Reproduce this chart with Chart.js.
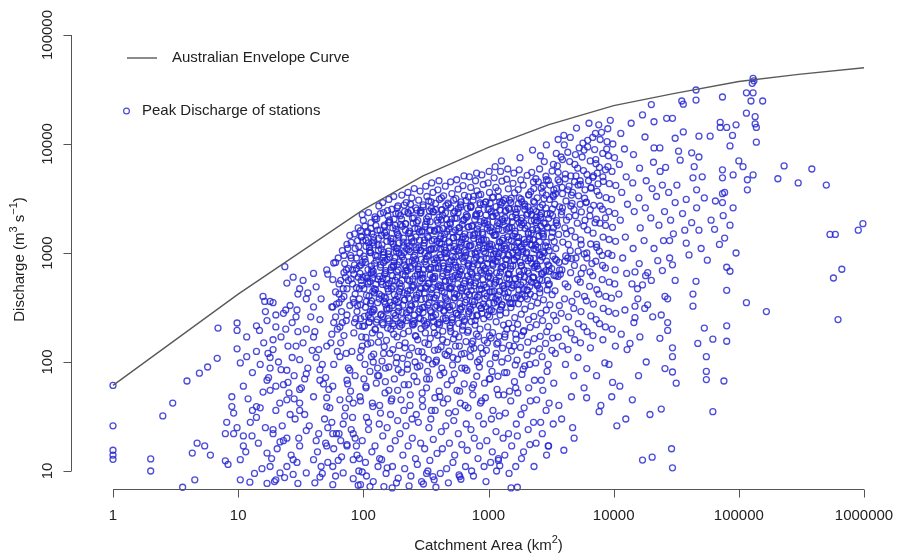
<!DOCTYPE html>
<html>
<head>
<meta charset="utf-8">
<title>Peak discharge vs catchment area</title>
<script src="https://cdn.jsdelivr.net/npm/chart.js@4.4.1/dist/chart.umd.min.js"></script>
<style>
  html, body { margin: 0; padding: 0; background: #fff; }
  #wrap { width: 897px; height: 559px; }
</style>
</head>
<body>
<div id="wrap"><canvas id="chart" width="897" height="559"></canvas></div>
<script>
// axis ticks
const xTickValues = [1, 10, 100, 1000, 10000, 100000, 1000000];
const yTickValues = [10, 100, 1000, 10000, 100000];

// Australian envelope curve (km2, m3/s)
const envelopeArea = [1, 10, 100, 300, 1000, 3000, 10000, 30000, 100000, 300000, 1000000];
const envelopeQ = [61, 420, 2500, 5100, 9300, 15000, 22500, 29000, 37500, 43500, 50000];

// stations [area km2, peak discharge m3/s]
const smallCatchments = [
  [1,61],[1,26],[1,15.5],[1,14],[1,12.8],[2,12.9],[2,10],[2.5,32],[3,42],[3.9,67],[4.9,79],[5.7,90],[6.8,108],[6.9,205],
  [3.6,7.1],[4.3,14.6],[4.7,18],[5.4,17],[6,14],[7.9,12.4],[4.5,8.3],[8.3,11.5],
  [9.8,228],[9.8,195],[9.8,132],[10.4,98],[11.7,170],[11.7,112],[14.8,195],[8.9,48],[8.9,39],[9.2,34],[8.1,28],[7.9,22],
  [9.2,22],[9.8,25],[10.4,12.7],[11,17],[12.9,21],[14,31],[14,39],[15.8,53],[17,68],[18,88],[17.3,120],[19,160],[20,210],
  [23,280],[19,350],[15.8,400],[16.3,360],[18,360],[24.5,530],[27.5,600],[23.6,750],[31,470],[29.5,300],[35,380],[42,490],
  [40,650],[51,700],[57,570],[45,245],[57,320],[74,470],[83,380],[65,210],[33,150],[40,170],[51,140],[65,112],[31,105],
  [24.5,84],[35,78],[45,68],[57,60],[74,68],[20,60],[24.5,45],[31,42],[40,48],[51,39],[65,45],[83,42],[19,22],[21.6,18.5],
  [24.5,20],[31,17],[35,23.5],[42,19],[51,17],[57,22],[74,17],[83,22],[17,14.6],[18,11],[21.6,9.6],[27.5,12.7],[35,9.6],
  [40,12.7],[45,8.8],[57,11],[69,9.6],[83,12.7],[10.4,8.3],[12.4,7.9],[17,7.7],[20,8.3],[30,7.7],
  [75,1100],[80,900],[60,820],[90,1300],[95,1600],[85,780],[70,950],
  [33,560],[36,430],[38,260],[41,190],[44,130],[47,95],[50,72],[53,56],[34,33],[37,26],[43,15],[46,11],[49,30],[52,25],
  [55,150],[58,230],[61,340],[64,420],[67,290],[70,175],[73,120],[76,88],[79,54],[82,31],[86,20],[89,14],[92,10],[95,44],
  [98,140],[99,600],[96,780],[93,470],[90,330],[87,250],[84,185],[81,125],[78,84],[75,63],[72,38],[69,27],[66,19],[63,12.5],
  [60,9],[57,7.5],[54,38],[51,47],[48,63],[45,85],[42,110],[39,128],[36,88],[34,70],[32,58],[35,200],[40,320],[46,380],
  [52,640],[58,810],[63,900],[68,1050],[74,1200],[80,580],[88,720],[94,1000],[97,1400],[85,1500],[91,1700],[78,1450],
  [71,800],[66,560],[60,440],[56,320],[62,200],[68,230],[74,270],[84,350],[92,215],[97,170],[94,110],[86,75],[77,46],
  [71,32],[64,22],[58,16],[52,12],[47,9.5],[41,7.8],[83,8.5],[91,7.4],[98,9.8],[93,13],[88,17],[80,24],[74,17.5],
  [67,13.5],[61,22],[56,28],[50,18],[44,22],
  [11,60],[12,46],[13,80],[14,125],[15,95],[16,150],[17,240],[18,55],[19,130],[20,36],[21,100],[22,170],[23,62],[24,200],
  [25,140],[26,33],[27,110],[28,75],[29,260],[30,190],[31,56],[12.5,28],[14.5,18],[16.5,25],[18.5,13],[20.5,16],[22.5,26],
  [24.5,11],[26.5,14],[28.5,30],[30.5,20],[11.5,15],[13.5,9.5],[15.5,10.5],[19.5,8],[23.5,8.7],[27.5,9.3],[29.5,12],
  [21.5,42],[25.5,52],[17.5,72],[15,38],[13,36],[11,21],[19,24],[23,19],[31,36],[28,46],[25,65],[22,85],[18,110],[29,140],
  [26,330],[30,420],[27,230],[24,300],[20,270],[16.5,290],[14,215],
  [56,180],[60,260],[64,350],[69,470],[72,600],[76,720],[82,520],[86,420],[89,290],[93,380],[96,560],[84,640],[78,330],
  [73,240],[66,150],[88,900],[92,1150],[99,1300],[80,1250],[70,660],[95,250],[62,125],[58,95],[85,230],
  [64,520],[70,400],[76,560],[82,700],[88,480],[94,650],[98,820],[67,380],[79,950],[91,600],[86,1100],[73,700]
];

const coreCatchments = [
  [95,7.5],[104,12],[98,19],[106,31],[94,48],[101,70],[103,95],[96,128],[105,168],[99,212],[102,262],[95,335],[106,410],[97,505],[104,615],[93,760],[101,935],[105,1150],[96,1420],[103,1760],[98,2250],
  [106,9],[117,15],[110,24],[119,39],[105,58],[113,82],[116,112],[108,146],[118,185],[111,232],[114,290],[106,360],[119,445],[109,540],[116,660],[104,820],[113,1010],[118,1240],[108,1530],[115,1900],[110,2350],
  [120,8],[131,11],[124,17],[134,27],[118,42],[127,64],[130,88],[121,118],[132,152],[125,198],[129,245],[120,305],[134,380],[122,470],[131,575],[117,700],[127,860],[132,1060],[121,1300],[130,1620],[124,2050],[133,2700],
  [146,7.2],[135,13],[143,21],[137,34],[149,52],[133,75],[141,102],[147,138],[136,176],[144,220],[139,275],[150,340],[134,420],[142,515],[148,640],[138,780],[145,960],[132,1180],[140,1450],[147,1800],[137,2300],[143,2900],
  [152,9.5],[164,16],[155,25],[167,44],[150,66],[160,90],[163,120],[153,158],[166,200],[157,250],[161,310],[151,385],[168,470],[154,575],[165,700],[149,850],[159,1040],[166,1270],[153,1560],[162,1920],[156,2450],[160,3100],
  [184,7.8],[171,11],[180,19],[188,29],[169,46],[177,70],[183,98],[172,130],[186,170],[175,215],[181,268],[170,330],[189,405],[174,495],[185,605],[168,740],[178,905],[187,1100],[173,1350],[182,1650],[176,2050],[186,2600],[175,3300],
  [190,8.6],[207,14],[196,22],[211,36],[188,55],[202,80],[206,108],[193,142],[209,182],[198,228],[204,285],[190,352],[212,430],[195,525],[208,640],[187,780],[201,960],[210,1170],[192,1430],[205,1760],[197,2200],[212,2750],[203,3400],
  [232,7.3],[214,10.5],[228,17],[219,26],[236,40],[212,62],[225,86],[233,116],[216,150],[230,192],[221,240],[237,300],[213,370],[226,450],[234,555],[218,680],[231,830],[211,1010],[224,1240],[235,1520],[217,1860],[229,2300],[220,2900],[227,3600],
  [240,9],[261,13],[246,20],[265,33],[237,50],[254,74],[259,100],[243,135],[263,172],[249,218],[256,270],[239,335],[266,410],[245,500],[260,615],[236,750],[252,915],[264,1120],[242,1370],[258,1680],[247,2080],[262,2600],[244,3200],[255,3900],
  [292,8],[270,11.5],[287,18],[275,28],[296,45],[268,66],[283,92],[294,124],[272,160],[289,202],[278,252],[297,315],[267,390],[285,480],[293,585],[274,715],[290,875],[266,1070],[281,1310],[295,1600],[273,1980],[288,2450],[277,3050],[284,3700],
  [302,7.6],[328,10],[309,16],[334,25],[298,39],[320,58],[326,82],[305,110],[332,145],[313,185],[324,230],[300,285],[335,350],[307,430],[329,525],[296,640],[318,780],[333,950],[304,1160],[325,1420],[311,1740],[331,2150],[301,2650],[322,3300],[315,4100],
  [368,8.3],[340,12.5],[362,19.5],[346,30],[373,47],[337,70],[357,96],[370,128],[343,165],[365,208],[350,258],[374,318],[338,392],[359,480],[371,585],[345,712],[366,870],[336,1060],[354,1290],[372,1580],[342,1940],[363,2380],[348,2950],[360,3600],[352,4400],
  [380,7.1],[412,9.5],[388,14.5],[420,23],[375,36],[403,54],[410,76],[384,104],[418,138],[392,176],[407,220],[378,272],[421,335],[386,410],[413,500],[373,610],[400,745],[417,910],[383,1110],[409,1350],[390,1650],[419,2020],[377,2500],[405,3100],[394,3800],[402,4600],
  [463,10.5],[428,16],[456,26],[435,42],[468,62],[424,88],[450,118],[466,152],[431,192],[459,240],[440,298],[470,365],[426,448],[453,548],[465,665],[434,810],[461,990],[422,1210],[447,1480],[467,1810],[430,2220],[457,2720],[438,3350],[452,4100],
  [478,7.8],[520,12],[487,18],[528,29],[472,46],[508,68],[516,94],[483,126],[525,163],[494,205],[512,255],[475,315],[530,388],[485,475],[519,580],[470,705],[505,860],[524,1050],[481,1280],[514,1560],[491,1900],[527,2330],[474,2870],[510,3500],[498,4500],
  [582,9.2],[537,14],[574,22],[545,35],[588,54],[533,78],[566,106],[585,140],[541,180],[578,226],[552,280],[590,345],[535,425],[569,520],[583,635],[544,775],[580,945],[531,1150],[560,1400],[587,1710],[539,2090],[575,2560],[549,3150],[571,3850],[557,4700],
  [602,8.4],[655,11],[612,17.5],[664,27],[596,42],[640,63],[650,88],[607,118],[661,154],[620,196],[645,245],[599,302],[667,372],[610,455],[652,555],[593,680],[635,830],[660,1010],[605,1230],[648,1500],[616,1830],[665,2240],[598,2760],[642,3380],[625,4150],[637,5100],
  [733,10],[676,15.5],[724,24],[686,38],[740,58],[672,84],[715,112],[737,147],[681,188],[728,235],[695,292],[742,360],[674,440],[718,540],[735,660],[684,805],[730,985],[670,1200],[709,1460],[739,1780],[679,2170],[726,2660],[692,3270],[721,4000],[703,5000],
  [758,9],[824,13],[770,20],[835,32],[750,50],[806,74],[817,100],[764,134],[831,172],[780,218],[812,270],[754,335],[838,410],[767,500],[820,612],[746,748],[800,912],[828,1115],[762,1360],[815,1660],[776,2030],[833,2480],[752,3050],[809,3720],[788,4600],[803,5400],
  [922,11],[850,17],[912,27],[862,42],[930,64],[845,90],[900,120],[926,158],[856,200],[916,250],[873,310],[933,380],[848,465],[905,570],[924,695],[860,850],[919,1035],[842,1265],[893,1540],[928,1880],[853,2300],[914,2810],[868,3450],[908,4250],[885,5200],
  [955,8],[1040,12],[970,19],[1055,30],[945,47],[1015,70],[1030,96],[962,128],[1050,166],[985,210],[1022,260],[950,322],[1058,395],[966,485],[1035,592],[940,722],[1008,882],[1045,1075],[960,1310],[1026,1600],[980,1950],[1052,2390],[948,2930],[1018,3600],[992,4400],[1012,5600],
  [1160,10],[1072,15],[1148,23],[1085,36],[1170,56],[1066,82],[1135,110],[1165,146],[1078,186],[1152,234],[1098,290],[1174,358],[1068,440],[1140,538],[1162,658],[1082,802],[1156,980],[1060,1195],[1128,1455],[1168,1775],[1075,2170],[1150,2660],[1092,3260],[1144,4000],[1110,4900],[1130,6200],
  [1200,12.5],[1308,20],[1220,32],[1325,50],[1190,74],[1278,100],[1296,134],[1212,172],[1318,218],[1238,270],[1284,335],[1196,410],[1330,505],[1216,615],[1300,750],[1185,915],[1270,1115],[1312,1360],[1208,1660],[1290,2030],[1232,2480],[1322,3040],[1194,3720],[1280,4560],[1250,5600],[1268,7000],
  [1460,9.5],[1350,14],[1445,22],[1365,34],[1472,54],[1342,80],[1430,108],[1465,142],[1356,180],[1450,226],[1380,282],[1478,348],[1346,428],[1436,522],[1462,638],[1362,778],[1455,950],[1338,1160],[1422,1410],[1470,1720],[1352,2100],[1448,2580],[1372,3160],[1440,3880],[1398,4750],[1425,5900],
  [1515,7],[1650,11],[1532,17],[1668,27],[1505,44],[1612,66],[1635,94],[1525,126],[1660,162],[1555,205],[1622,255],[1510,316],[1672,390],[1530,478],[1640,585],[1498,715],[1600,872],[1655,1065],[1520,1300],[1628,1585],[1548,1935],[1665,2370],[1508,2900],[1615,3560],[1570,4360],[1595,5400],
  [1835,13],[1700,21],[1818,33],[1716,52],[1850,77],[1690,104],[1800,136],[1842,175],[1708,222],[1825,275],[1735,342],[1855,420],[1695,515],[1806,630],[1838,770],[1712,940],[1830,1145],[1685,1400],[1790,1710],[1848,2090],[1704,2550],[1822,3120],[1728,3820],[1812,4680],[1760,5800],[1785,7500],
  [1905,15],[2075,24],[1925,38],[2095,58],[1890,86],[2030,116],[2060,152],[1915,194],[2088,245],[1950,305],[2045,378],[1898,465],[2100,570],[1920,695],[2068,850],[1880,1035],[2015,1265],[2080,1545],[1910,1885],[2052,2300],[1942,2810],[2092,3440],[1895,4200],[2035,5150],
  [2310,11],[2140,17.5],[2290,28],[2160,44],[2330,68],[2130,95],[2270,126],[2320,164],[2150,208],[2300,262],[2185,325],[2335,400],[2135,492],[2278,600],[2315,735],[2155,898],[2305,1095],[2125,1340],[2255,1635],[2325,2000],[2145,2440],[2295,2980],[2175,3650],[2285,4480],[2215,5500],[2250,8800],
  [2400,18],[2610,28],[2425,45],[2640,68],[2385,98],[2555,132],[2590,172],[2415,220],[2625,280],[2460,348],[2570,430],[2395,528],[2650,648],[2420,792],[2600,968],[2375,1180],[2535,1440],[2615,1760],[2410,2150],[2580,2630],[2450,3210],[2635,3930],[2390,4800],[2560,5900],
  [2910,14],[2690,22],[2885,36],[2715,55],[2935,82],[2680,112],[2860,148],[2920,190],[2705,240],[2895,300],[2750,372],[2940,458],[2685,562],[2870,688],[2915,840],[2710,1025],[2900,1250],[2670,1525],[2840,1860],[2930,2270],[2700,2770],[2890,3390],[2740,4140],[2875,5060],[2790,6900],
  [3020,17],[3290,27],[3050,42],[3320,64],[3000,95],[3210,128],[3255,166],[3040,212],[3310,268],[3090,335],[3230,415],[3010,510],[3335,625],[3045,765],[3270,935],[2990,1140],[3190,1395],[3300,1700],[3030,2080],[3240,2540],[3080,3100],[3325,3790],[3005,4630],[3220,5650],
  [105,60],[130,75],[160,55],[190,85],[230,62],[270,90],[320,70],[380,100],[440,80],[520,110],[610,88],[720,130],[850,105],
  [980,150],[1150,120],[1350,170],[1600,140],[1900,190],[115,150],[145,120],[175,180],[215,135],[260,175],[310,150],[370,185],
  [430,160],[500,190],[580,170],[690,195],[800,180],
  [110,28],[135,40],[165,33],[200,45],[245,30],[295,52],[350,36],[410,48],[480,34],[560,55],[650,40],[760,62],[880,44],
  [1030,70],[1200,50],[1400,80],[1650,58],[1950,92],
  [120,100],[150,88],[185,110],[225,95],[275,125],[330,105],[395,130],[465,115],[545,140],[640,120],[750,155],[870,135],
  [1020,175],[1190,150],[1400,200],[1650,180]
];

// densest part of the cloud
const denseCatchments = [
  [102,215],[110,270],[104,318],[111,402],[101,470],[107,590],[109,705],[103,880],[112,1050],[105,1310],[108,1570],[100,1990],
  [124,200],[114,252],[122,300],[116,365],[125,462],[113,548],[120,680],[123,805],[115,1010],[121,1190],[117,1500],[126,1780],
  [127,232],[138,270],[130,350],[140,405],[126,515],[135,610],[137,740],[129,930],[139,1090],[132,1360],[136,1620],[128,2060],
  [156,205],[144,262],[153,310],[147,395],[157,470],[143,585],[151,690],[155,870],[146,1020],[154,1280],[148,1530],[158,1900],[145,2350],
  [161,238],[175,280],[164,352],[177,415],[160,525],[171,620],[174,770],[163,915],[176,1140],[166,1360],[172,1700],[162,2010],[169,2520],
  [196,212],[181,250],[192,318],[184,376],[197,472],[180,560],[190,700],[195,830],[183,1040],[193,1230],[186,1540],[198,1830],[182,2290],[189,2700],
  [203,220],[221,282],[207,332],[224,420],[201,495],[216,622],[219,735],[205,925],[222,1090],[209,1370],[217,1620],[202,2040],[214,2400],
  [247,222],[228,256],[243,326],[231,384],[249,485],[226,570],[240,720],[246,850],[230,1070],[244,1260],[234,1590],[250,1880],[227,2360],[238,2800],
  [255,226],[277,290],[260,340],[280,430],[253,505],[271,640],[275,752],[258,950],[278,1120],[263,1405],[273,1660],[254,2100],[268,2470],
  [311,215],[286,250],[306,318],[290,375],[313,475],[284,558],[302,705],[309,830],[288,1050],[307,1235],[293,1560],[314,1840],[285,2320],[300,2760],
  [321,222],[349,284],[327,334],[352,422],[319,495],[342,628],[347,738],[325,932],[350,1095],[331,1385],[344,1630],[320,2060],[338,2430],[333,3000],
  [392,224],[361,260],[386,330],[366,388],[394,492],[358,578],[380,730],[390,860],[364,1085],[387,1280],[370,1615],[395,1905],[360,2400],[378,2850],
  [405,230],[440,292],[412,344],[444,434],[402,510],[432,648],[437,760],[409,962],[442,1130],[416,1425],[434,1680],[404,2130],[426,2500],[420,3200],
  [493,216],[454,252],[487,322],[459,378],[496,480],[451,562],[482,712],[491,838],[457,1058],[488,1245],[465,1575],[497,1850],[453,2340],[477,2780],
  [510,230],[553,280],[518,330],[558,418],[506,490],[542,622],[549,730],[514,925],[556,1090],[522,1375],[545,1620],[508,2050],[538,2410],[527,3050],
  [621,214],[572,270],[614,320],[578,402],[624,475],[569,600],[608,708],[618,895],[576,1052],[615,1330],[584,1570],[626,1985],[571,2340],[603,2950],
  [641,236],[696,278],[650,352],[701,414],[637,524],[684,616],[692,780],[646,918],[699,1160],[656,1365],[687,1730],[639,2035],[678,2570],[662,3030],
  [782,240],[720,305],[773,358],[727,452],[786,532],[716,672],[765,795],[779,1005],[724,1180],[775,1495],[735,1760],[788,2225],[718,2620],[760,3310],
  [807,265],[877,312],[817,395],[882,465],[802,588],[862,694],[870,876],[812,1030],[880,1305],[825,1535],[866,1940],[804,2285],[855,2890],[835,3400],
  [984,270],[906,342],[973,403],[915,510],[989,600],[902,760],[962,893],[980,1130],[910,1330],[976,1685],[926,1980],[992,2505],[955,2950],
  [1016,296],[1104,348],[1028,440],[1110,518],[1012,655],[1086,772],[1098,975],[1024,1150],[1107,1455],[1040,1710],[1090,2165],[1014,2545],[1072,3220],
  [1240,300],[1142,380],[1227,446],[1152,565],[1245,665],[1136,840],[1212,990],[1235,1250],[1148,1470],[1230,1865],[1165,2190],[1248,2775],[1205,3260],
  [1281,336],[1390,395],[1295,500],[1398,588],[1275,745],[1370,877],[1384,1110],[1290,1305],[1395,1650],[1310,1945],[1376,2460],[1285,2895],
  [1560,344],[1437,436],[1545,512],[1450,648],[1566,763],[1430,965],[1528,1135],[1555,1437],[1445,1690],[1550,2140],[1465,2518],[1520,3185],
  [1612,388],[1750,456],[1630,577],[1760,678],[1605,858],[1725,1010],[1742,1279],[1624,1504],[1756,1904],[1650,2240],[1732,2835],
  [1965,402],[1810,510],[1945,600],[1825,760],[1972,893],[1802,1131],[1925,1330],[1958,1684],[1818,1980],[1950,2507],[1845,2950],
  [2030,459],[2205,540],[2052,683],[2215,804],[2022,1018],[2175,1197],[2196,1516],[2045,1782],[2210,2256],[2070,2655],
  [2472,510],[2278,600],[2445,759],[2295,893],[2480,1130],[2268,1329],[2425,1683],[2462,1979],[2290,2505],
  [2560,571],[2775,671],[2590,851],[2785,1000],[2550,1266],[2740,1488],[2765,1885],[2580,2217],
  [111,232],[118,288],[114,345],[123,430],[109,520],[120,640],[116,760],[125,950],[112,1130],[121,1400],[115,1680],[124,2150],[110,1240],[119,590],
  [142,228],[155,300],[147,360],[159,445],[139,545],[151,660],[145,820],[158,980],[141,1190],[153,1440],[148,1750],[157,2200],[144,905],[152,505],
  [172,225],[190,292],[178,365],[194,440],[170,555],[185,670],[176,835],[193,1000],[173,1210],[188,1480],[180,1790],[191,2300],[174,750],[183,1110],
  [206,245],[232,300],[214,372],[238,455],[204,560],[226,690],[211,860],[236,1030],[208,1260],[229,1520],[218,1850],[240,2450],[213,780],[233,1160],
  [252,236],[283,305],[259,378],[290,470],[248,575],[276,705],[262,870],[287,1060],[254,1290],[280,1560],[266,1910],[289,2350],[257,800],[284,640],
  [304,240],[343,295],[315,382],[349,462],[300,590],[333,715],[318,880],[346,1080],[308,1320],[338,1600],[322,1950],[350,2550],[311,1000],[336,530],
  [364,236],[410,312],[377,385],[418,478],[360,600],[398,720],[382,900],[414,1100],[368,1330],[404,1640],[388,2000],[420,2480],[372,810],[407,1230],
  [434,250],[492,300],[452,392],[499,470],[430,612],[478,735],[458,910],[496,1120],[440,1360],[484,1660],[462,2040],[500,2600],[446,1000],[488,560],
  [515,245],[590,310],[540,388],[598,480],[512,605],[572,740],[548,920],[594,1130],[525,1380],[580,1700],[556,2080],[600,2650],[530,830],[585,1260],
  [616,258],[708,320],[650,400],[716,498],[612,625],[688,760],[656,950],[712,1160],[630,1410],[696,1740],[664,2120],[720,2700],[640,1050],[700,570],
  [745,265],[845,330],[780,412],[858,505],[738,640],[822,780],[790,975],[852,1190],[755,1450],[830,1790],[800,2180],[860,2780],[768,860],[838,1320],
  [885,280],[1010,345],[930,425],[1025,520],[880,660],[980,800],[945,995],[1018,1215],[900,1480],[990,1820],[955,2230],[1030,2860],[915,1100],[1000,610],
  [1055,300],[1210,370],[1110,445],[1225,548],[1050,690],[1170,835],[1125,1040],[1218,1270],[1075,1550],[1185,1900],[1140,2320],[1230,2950],[1090,880],[1198,1150],
  [1265,320],[1445,385],[1330,470],[1465,570],[1258,720],[1400,870],[1345,1085],[1455,1320],[1290,1610],[1415,1970],[1360,2400],[1470,3050],[1305,950],[1430,640],
  [1510,345],[1730,410],[1590,500],[1755,605],[1500,760],[1675,920],[1610,1140],[1745,1390],[1540,1700],[1690,2080],[1625,2530],[1760,3200],[1560,1000],[1710,1240],
  [1805,380],[2060,455],[1900,540],[2090,655],[1795,820],[2000,990],[1925,1220],[2080,1490],[1840,1820],[2020,2230],[1950,2700],[2100,3400],[1870,1080],
  [2160,420],[2460,500],[2270,590],[2490,715],[2150,890],[2390,1075],[2300,1320],[2480,1610],[2200,1970],[2410,2400],[2330,2920],[2230,1180],
  [2560,470],[2950,560],[2700,650],[2985,780],[2550,960],[2850,1160],[2740,1420],[2970,1730],[2620,2120],[2880,2580],[2780,3150],
  [3060,520],[3450,620],[3200,720],[3490,860],[3050,1050],[3350,1270],[3240,1550],[3470,1890],[3120,2300],[3380,2800],[3280,3400]
];

const largeCatchments = [
  [3650,40],[3420,120],[3610,170],[3470,240],[3680,330],[3400,450],[3590,610],[3660,820],[3450,1100],[3630,1480],[3500,1980],[3690,2650],[3430,3500],[3600,4700],[3550,6300],[3480,8200],
  [3840,30],[4120,95],[3880,140],[4150,200],[3810,280],[4050,380],[4100,520],[3860,700],[4140,940],[3920,1260],[4070,1700],[3820,2250],[4160,3000],[3870,4000],[4110,5300],[3900,7200],[4030,9800],
  [4600,48],[4320,130],[4570,185],[4360,260],[4640,360],[4300,490],[4530,660],[4620,890],[4340,1200],[4580,1600],[4400,2150],[4650,2850],[4310,3800],[4550,5100],[4450,6900],[4500,11500],
  [4830,20],[5180,110],[4880,160],[5220,225],[4800,310],[5100,420],[5150,570],[4860,770],[5200,1040],[4920,1400],[5120,1880],[4820,2500],[5240,3350],[4870,4500],[5160,6000],[4950,8000],[5050,14000],
  [5800,58],[5430,150],[5760,210],[5480,290],[5850,400],[5410,540],[5720,730],[5820,980],[5460,1320],[5780,1770],[5520,2380],[5860,3180],[5420,4250],[5740,5700],[5600,7600],[5680,10200],
  [6080,47],[6520,135],[6130,190],[6570,265],[6050,365],[6420,495],[6480,670],[6110,900],[6550,1210],[6180,1630],[6450,2190],[6060,2930],[6590,3930],[6120,5250],[6500,7000],[6200,9400],[6350,15500],
  [7300,75],[6830,175],[7250,245],[6880,340],[7340,460],[6800,620],[7200,840],[7320,1130],[6850,1520],[7270,2040],[6920,2740],[7360,3680],[6810,4950],[7220,6600],[7050,8900],[7150,12500],
  [7650,35],[8200,160],[7700,225],[8250,310],[7620,420],[8100,570],[8150,770],[7680,1040],[8230,1400],[7760,1880],[8120,2520],[7640,3380],[8270,4540],[7690,6100],[8180,8200],[7800,11000],
  [9180,95],[8600,210],[9120,290],[8650,400],[9220,540],[8580,730],[9050,990],[9200,1330],[8620,1790],[9150,2400],[8700,3220],[9240,4330],[8590,5800],[9080,7800],[8850,10500],[8980,13800],
  [9650,48],[10320,140],[9720,200],[10380,280],[9600,385],[10200,520],[10280,700],[9690,950],[10350,1280],[9780,1720],[10240,2310],[9620,3100],[10400,4170],[9700,5600],[10150,7500],[9850,10000],
  [3700,700],[4200,1500],[3900,2600],[4600,3400],[5200,4200],[3600,5500],[4900,6500],[6000,2900],[5500,1200],[4300,900],
  [6600,4000],[7400,5400],[5800,8800],[4000,12000],[6800,11500],[8800,9000],[7600,15000],[9400,16500],
  [2300,3900],[2500,4500],[2700,3600],[2900,4700],[3100,4200],[3300,3300],[3500,3900],[3700,4500],[3900,3500],[4100,4800],
  [4400,4100],[4700,3600],[5000,5100],[5400,4600],[5900,3800],[6300,4600],[6900,5100],[7500,4300],[8200,5000],[9000,6200],
  [2400,1900],[2650,2300],[2950,1700],[3250,2200],[3550,1800],[3850,2400],[4200,2000],[4550,2700],[4950,2200],[5400,2800],
  [5900,2000],[6500,2500],[7100,1900],[7800,2700],[8600,2100],
  [2350,760],[2700,920],[3050,680],[3400,880],[3750,640],[4100,840],[4500,1050],[5000,900],[5500,650],[6100,1000],[6700,800],
  [7300,1200],[8100,950],
  [3300,6500],[3800,7600],[4300,8400],[5300,9200],[6200,10800],[7200,7200],[2600,7800],[2900,9800],[3600,11000],[8000,12800],
  [1700,7.1],[3000,17],[4000,15.5],[4700,25],[7900,40],[10600,26],[8500,98],[9800,65],[6100,87],[4800,75],[1230,11.2],[1200,13],
  [590,8.9],[320,9.5],[360,8.9],[155,10.7],[140,12.7],[113,7.2],[170,7],
  [11200,60],[11500,180],[11000,420],[11800,900],[11300,2000],[11600,3600],[11100,6500],[11400,12500],[12500,30],[12800,130],
  [12300,300],[12700,650],[12400,1400],[12900,2800],[12600,5000],[12200,9000],[14100,45],[14500,230],[14000,520],[14300,1100],
  [14600,2400],[14200,4400],[14400,8000],[13800,15500],[15800,75],[16200,170],[15600,380],[16000,800],[16300,1700],[15900,3200],
  [16100,6000],[17700,310],[18000,620],[17500,1300],[17900,2600],[18200,4600],[20500,260],[20000,560],[21000,1100],[19800,2100],
  [20300,3900],[20800,6800],[22500,850],[23000,1800],[22000,3300],[23500,5600],[25000,1300],[25500,2400],[24500,4200],[28000,900],
  [28500,2000],[27500,3600],[26000,6100],[30000,1500],[31000,2900],[32000,4200],[33000,8600],
  [13500,148],[18200,100],[19500,33],[24000,37],[17000,12.6],[20300,13.4],[29000,16],[29500,10.7],[62000,35],[55000,69],[55000,82],
  [55000,112],[76000,67],[25700,87],[29500,81],[31600,64],[29500,112],[29500,135],[23400,165],[27000,195],[27000,230],[24000,270],
  [47000,148],[53000,205],[62000,162],[80000,155],[80000,215],[43000,325],[43000,420],[45500,550],[80000,455],[80000,740],
  [31000,560],[29500,780],[24500,690],[25700,400],[27000,380],[14800,670],[18700,660],[14800,325],[18700,335],[14800,255],
  [15500,470],[17000,510],
  [45500,31300],[45500,25300],[74000,27000],[35000,24800],[36000,23200],[20000,23000],[17000,18500],[21000,16000],[26500,17200],
  [29500,17200],[71000,15800],[80000,14200],[89000,12000],[71000,14200],[59000,11800],[48000,11800],[36000,12900],[31000,11300],
  [17800,11600],[21000,9200],[23400,9200],[34000,7100],[42000,8300],[48000,7600],[44000,6200],[43000,4900],[51000,5000],[46000,3800],
  [74000,5800],[74000,4900],[77000,3600],[74000,2900],[74000,3500],[48000,1620],[64000,1650],[85000,1800],[77000,1370],[37000,1620],
  [28000,1300],[38000,1230],[35500,2300],[38000,3100],[40000,960],[42000,1900],[46000,2600],[50000,1100],[53000,3200],[56000,860],
  [60000,2000],[65000,3000],[70000,1200],[75000,2200],[85000,680],[90000,2600],[95000,1000],[90000,5200],[85000,9600],[100000,7000],
  [95000,15000],
  [130000,40000],[132000,38000],[128000,36000],[115000,29500],[130000,29500],[125000,24800],[155000,24800],[115000,19200],
  [135000,17800],[138000,14200],[135000,15300],[138000,10400],[108000,6200],[117000,4700],[130000,5200],[117000,3800],
  [115000,350],[166000,290],[205000,4800],[230000,6300],[298000,4400],[383000,5900],[500000,4200],[535000,1480],[590000,1480],
  [900000,1620],[980000,1860],[620000,245],[570000,590],[665000,710]
];

const stations = smallCatchments.concat(coreCatchments, denseCatchments, largeCatchments);

const axisColor = '#555555';
const textColor = '#222222';
const pointColor = 'rgba(35, 35, 210, 0.82)';
const fontFamily = '"Liberation Sans", Arial, sans-serif';

// draws text pieces with superscripts, centred on (cx, cy)
function drawRich(ctx, parts, cx, cy, size) {
  const supSize = Math.round(size * 0.7);
  let total = 0;
  parts.forEach(p => {
    ctx.font = (p.sup ? supSize : size) + 'px ' + fontFamily;
    p.w = ctx.measureText(p.t).width;
    total += p.w;
  });
  let x = cx - total / 2;
  ctx.textAlign = 'left';
  ctx.textBaseline = 'middle';
  parts.forEach(p => {
    ctx.font = (p.sup ? supSize : size) + 'px ' + fontFamily;
    ctx.fillText(p.t, x, p.sup ? cy - size * 0.42 : cy);
    x += p.w;
  });
}

const baseAxes = {
  id: 'baseAxes',
  afterDatasetsDraw(chart) {
    const ctx = chart.ctx;
    const xs = chart.scales.x;
    const ys = chart.scales.y;
    const area = chart.chartArea;
    ctx.save();
    ctx.strokeStyle = axisColor;
    ctx.lineWidth = 1;
    ctx.fillStyle = textColor;

    // x axis
    const xAxisY = Math.round(area.bottom) + 0.5;
    const x0 = xs.getPixelForValue(xTickValues[0]);
    const x1 = xs.getPixelForValue(xTickValues[xTickValues.length - 1]);
    ctx.beginPath();
    ctx.moveTo(x0, xAxisY);
    ctx.lineTo(x1, xAxisY);
    xTickValues.forEach(v => {
      const px = Math.round(xs.getPixelForValue(v)) + 0.5;
      ctx.moveTo(px, xAxisY);
      ctx.lineTo(px, xAxisY + 8);
    });
    ctx.stroke();
    ctx.font = '15px ' + fontFamily;
    ctx.textAlign = 'center';
    ctx.textBaseline = 'middle';
    xTickValues.forEach(v => {
      ctx.fillText(String(v), xs.getPixelForValue(v), 516);
    });

    // y axis
    const yAxisX = 71.5;
    ctx.beginPath();
    ctx.moveTo(yAxisX, ys.getPixelForValue(yTickValues[0]));
    ctx.lineTo(yAxisX, ys.getPixelForValue(yTickValues[yTickValues.length - 1]));
    yTickValues.forEach(v => {
      const py = Math.round(ys.getPixelForValue(v)) + 0.5;
      ctx.moveTo(yAxisX, py);
      ctx.lineTo(yAxisX - 8, py);
    });
    ctx.stroke();
    yTickValues.forEach(v => {
      ctx.save();
      ctx.translate(48, ys.getPixelForValue(v));
      ctx.rotate(-Math.PI / 2);
      ctx.textAlign = 'center';
      ctx.textBaseline = 'middle';
      ctx.fillText(String(v), 0, 0);
      ctx.restore();
    });

    // axis titles
    drawRich(ctx, [{ t: 'Catchment Area (km' }, { t: '2', sup: true }, { t: ')' }],
      (area.left + area.right) / 2, 546, 15);
    ctx.save();
    ctx.translate(20, (area.top + area.bottom) / 2 + 10);
    ctx.rotate(-Math.PI / 2);
    drawRich(ctx, [{ t: 'Discharge (m' }, { t: '3', sup: true }, { t: ' s' }, { t: '\u22121', sup: true }, { t: ')' }], 0, 0, 15);
    ctx.restore();

    // legend
    ctx.strokeStyle = '#5a5a5a';
    ctx.lineWidth = 1.4;
    ctx.beginPath();
    ctx.moveTo(127, 58);
    ctx.lineTo(157, 58);
    ctx.stroke();
    ctx.strokeStyle = pointColor;
    ctx.lineWidth = 1.2;
    ctx.beginPath();
    ctx.arc(126.5, 111, 2.9, 0, Math.PI * 2);
    ctx.stroke();
    ctx.fillStyle = textColor;
    ctx.font = '15px ' + fontFamily;
    ctx.textAlign = 'left';
    ctx.textBaseline = 'middle';
    ctx.fillText('Australian Envelope Curve', 172, 58);
    ctx.fillText('Peak Discharge of stations', 142, 111);
    ctx.restore();
  }
};

function renderChart() {
  const ctx = document.getElementById('chart').getContext('2d');
  new Chart(ctx, {
    type: 'scatter',
    data: {
      datasets: [{
        label: 'Australian Envelope Curve',
        data: envelopeArea.map((a, i) => ({ x: a, y: envelopeQ[i] })),
        showLine: true,
        pointRadius: 0,
        borderColor: '#5a5a5a',
        borderWidth: 1.4,
        tension: 0,
        clip: false
      }, {
        label: 'Peak Discharge of stations',
        data: stations.map(s => ({ x: s[0], y: s[1] })),
        pointStyle: 'circle',
        pointRadius: 3,
        borderWidth: 1.3,
        borderColor: pointColor,
        backgroundColor: 'rgba(0,0,0,0)',
        clip: false
      }]
    },
    options: {
      responsive: false,
      animation: false,
      devicePixelRatio: 1,
      events: [],
      layout: { padding: { left: 113, right: 33, top: 10, bottom: 70 } },
      scales: {
        x: { type: 'logarithmic', min: 1, max: 1000000, display: false },
        y: { type: 'logarithmic', min: 6.84, max: 169600, display: false }
      },
      plugins: { legend: { display: false }, tooltip: { enabled: false } }
    },
    plugins: [baseAxes]
  });
}

document.addEventListener('DOMContentLoaded', renderChart);
</script>
</body>
</html>
